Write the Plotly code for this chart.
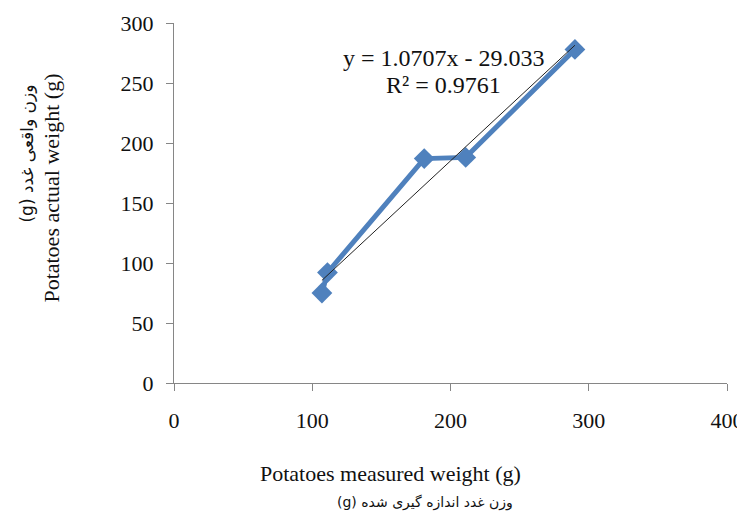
import plotly.graph_objects as go

measured = [107, 111, 181, 211, 290]
actual = [75, 92, 187, 188, 278]
slope = 1.0707
intercept = -29.033
eq_text = "y = 1.0707x - 29.033"
r2_text = "R² = 0.9761"
x_ticks = [0, 100, 200, 300, 400]
y_ticks = [0, 50, 100, 150, 200, 250, 300]
x_title_en = "Potatoes measured weight (g)"
x_title_fa = "(g) وزن غدد اندازه گیری شده"
y_title_en = "Potatoes actual weight (g)"
y_title_fa = "(g) وزن واقعی غدد"

tx = [min(measured), max(measured)]
ty = [slope * v + intercept for v in tx]

serif = "Liberation Serif"
fa_font = "DejaVu Sans"
ink = "#111111"

fig = go.Figure()
fig.add_trace(go.Scatter(
    x=measured, y=actual, mode="lines+markers",
    line=dict(color="#4F81BD", width=5),
    marker=dict(symbol="diamond", size=16, color="#4F81BD"),
    showlegend=False,
))
fig.add_trace(go.Scatter(
    x=tx, y=ty, mode="lines",
    line=dict(color="#222222", width=1),
    showlegend=False,
))

axis_common = dict(
    showgrid=False, zeroline=False, showline=True, linecolor="#868686", linewidth=1,
    ticks="outside", ticklen=7, tickcolor="#868686", tickwidth=1,
    tickfont=dict(family=serif, size=22, color=ink),
)
fig.update_xaxes(range=[0, 400], tickvals=x_ticks, ticklabelstandoff=11, **axis_common)
fig.update_yaxes(range=[0, 300], tickvals=y_ticks, ticklabelstandoff=8, **axis_common)

def note(x, y, text, family, size, angle=0):
    fig.add_annotation(x=x, y=y, xref="paper", yref="paper", text=text, textangle=angle,
                       xanchor="center", yanchor="middle", showarrow=False,
                       font=dict(family=family, size=size, color=ink))

note(0.3906, -0.25, x_title_en, serif, 22)
note(0.454, -0.333, x_title_fa, fa_font, 14)
note(-0.2206, 0.540, y_title_en, serif, 22, -90)
note(-0.2676, 0.6375, y_title_fa, fa_font, 17, -90)
note(0.488, 0.9028, eq_text, serif, 24)
note(0.487, 0.8278, r2_text, serif, 24)

# page body has an 8px margin, so the figure is 8px smaller and shifted
fig.update_layout(
    width=737, height=515,
    margin=dict(l=166, r=18, t=15, b=140, autoexpand=False),
    paper_bgcolor="white", plot_bgcolor="white",
)
fig.write_html("out.html")
